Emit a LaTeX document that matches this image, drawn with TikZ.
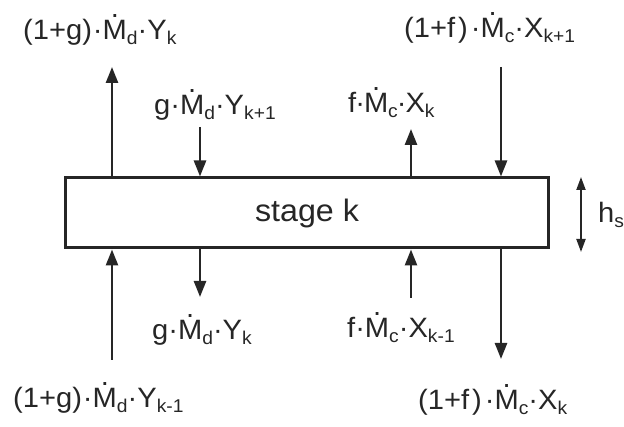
\documentclass[tikz,border=0pt]{standalone}
\usepackage{fontspec}
\setmainfont{Liberation Sans}[FakeStretch=1.04]
\usetikzlibrary{arrows.meta}
\newcommand\MD{\ooalign{M\cr\hidewidth\smash{\raisebox{0.8em}{.}}\hidewidth\cr}}
\newcommand\sub[1]{\raisebox{-5pt}{\fontsize{18.5}{18.5}\selectfont #1}}
\tikzset{
  lbl/.style={anchor=base west, inner sep=0pt, text=black!85},
  flow/.style={line width=2.5pt, draw=black!85, -{Triangle[length=16pt,width=12pt]}},
  stagebox/.style={draw=black!85, line width=3pt, minimum width=483pt, minimum height=70pt, inner sep=0pt, text=black!85, font=\fontsize{31}{36}\selectfont},
}
\begin{document}
\begin{tikzpicture}[x=1pt,y=-1pt,font=\fontsize{28}{34}\selectfont]
\useasboundingbox (0,0) rectangle (624,427);
\node[stagebox] (box) at (307,213) {stage k};

% top labels
\node[lbl] (l1) at (23,40) {(1+g)\kern1pt·\MD\sub{d}·Y\sub{k}};
\node[lbl] (l2) at (154,115) {g·\MD\sub{d}·Y\sub{k+1}};
\node[lbl] (l3) at (348,113) {f\kern-1pt·\kern-1pt\MD\sub{c}\kern-1pt·\kern-1pt X\sub{k}};
\node[lbl] (l4) at (404,38) {(1+f\kern3pt)\kern3pt·\MD\sub{c}·X\sub{k+1}};
% bottom labels
\node[lbl] (l5) at (152,340) {g·\MD\sub{d}·Y\sub{k}};
\node[lbl] (l6) at (347,338) {f·\MD\sub{c}·X\sub{k-1}};
\node[lbl] (l7) at (13,408) {(1+g)\kern1pt·\MD\sub{d}·Y\sub{k-1}};
\node[lbl] (l8) at (418,410) {(1+f\kern3pt)\kern3pt·\MD\sub{c}·X\sub{k}};
\node[lbl] (hs) at (598,223) {h\sub{s}};

% free ends
\coordinate (t1) at (112,67);
\coordinate (t2) at (200,127);
\coordinate (t3) at (411,129);
\coordinate (t4) at (501,67);
\coordinate (b1) at (112,360);
\coordinate (b2) at (200,297);
\coordinate (b3) at (411,298);
\coordinate (b4) at (501,359);
\coordinate (h1) at (581,177);
\coordinate (h2) at (581,252);

\draw[flow] (box.north -| t1) -- (t1);
\draw[flow] (t2) -- (box.north -| t2);
\draw[flow] (box.north -| t3) -- (t3);
\draw[flow] (t4) -- (box.north -| t4);
\draw[flow] (b1) -- (box.south -| b1);
\draw[flow] (box.south -| b2) -- (b2);
\draw[flow] (b3) -- (box.south -| b3);
\draw[flow] (box.south -| b4) -- (b4);
\draw[line width=2pt, draw=black!85, {Triangle[length=13pt,width=9pt]}-{Triangle[length=13pt,width=9pt]}] (h1) -- (h2);
\end{tikzpicture}
\end{document}
